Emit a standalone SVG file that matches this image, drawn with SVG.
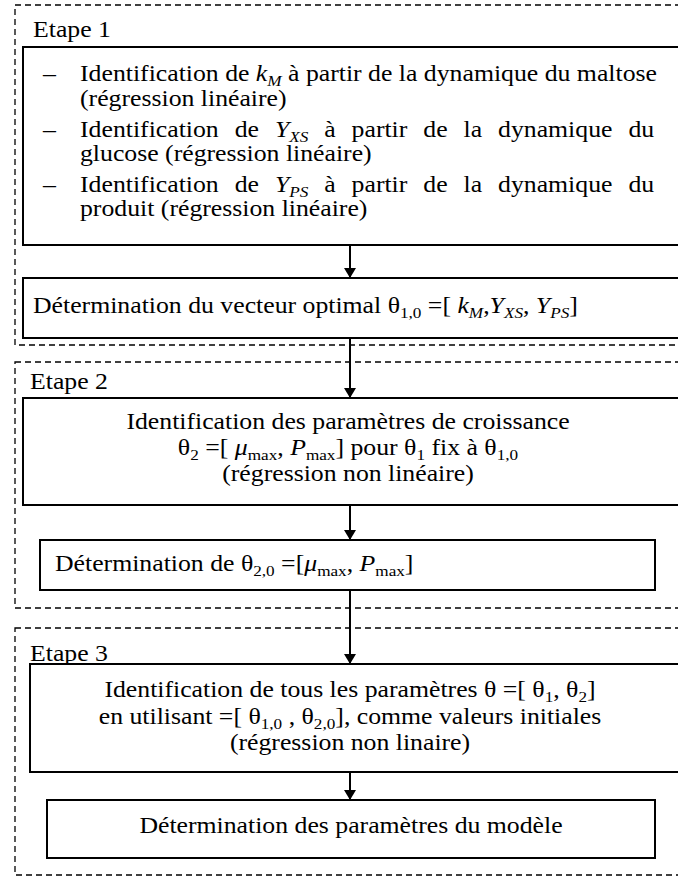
<svg xmlns="http://www.w3.org/2000/svg" width="678" height="878" viewBox="0 0 678 878">
<defs>
<marker id="arr" viewBox="0 0 10 12" refX="10" refY="6" markerWidth="10" markerHeight="12" markerUnits="userSpaceOnUse" orient="auto">
<path d="M0,0 L10,6 L0,12 Z" fill="#000"/>
</marker>
<style>
.stage{fill:none;stroke:#000;stroke-width:1.3;stroke-dasharray:6 4}
.box{fill:#fff;stroke:#000;stroke-width:2}
.t{font-family:"Liberation Serif","Times New Roman",serif;font-size:22.5px;fill:#000}
.c{text-anchor:middle}
.i{font-style:italic}
.s{font-size:15px}
.conn{stroke:#000;stroke-width:2;fill:none;marker-end:url(#arr)}
</style>
</defs>
<rect width="678" height="878" fill="#fff"/>
<g id="stage1">
<rect class="stage" x="15" y="5" width="700" height="340"/>
<text class="t" transform="translate(33,37) scale(1.145,1)">Etape 1</text>
</g>
<g id="stage2">
<rect class="stage" x="15" y="362" width="700" height="246"/>
<text class="t" transform="translate(30,389) scale(1.145,1)">Etape 2</text>
</g>
<g id="stage3">
<rect class="stage" x="15" y="628" width="700" height="247"/>
<text class="t" transform="translate(30,661) scale(1.145,1)">Etape 3</text>
</g>
<g id="connectors">
<line class="conn" x1="350" y1="246" x2="350" y2="278"/>
<line class="conn" x1="350" y1="338" x2="350" y2="398"/>
<line class="conn" x1="350" y1="505" x2="350" y2="540"/>
<line class="conn" x1="350" y1="590" x2="350" y2="664"/>
<line class="conn" x1="350" y1="772" x2="350" y2="800"/>
</g>
<g id="n1">
<rect class="box" x="23" y="47" width="700" height="198"/>
<text class="t" transform="translate(43,81) scale(1.145,1)">–</text>
<text class="t" transform="translate(80,81) scale(1.145,1)">Identification  de <tspan class="i">k</tspan><tspan class="i s" dy="5">M</tspan><tspan dy="-5"> à partir de la dynamique du maltose</tspan></text>
<text class="t" transform="translate(80,106) scale(1.145,1)">(régression linéaire)</text>
<text class="t" transform="translate(43,137) scale(1.145,1)">–</text>
<text class="t" transform="translate(80,137) scale(1.145,1)" word-spacing="8.3">Identification  de <tspan class="i">Y</tspan><tspan class="i s" dy="5">XS</tspan><tspan dy="-5"> à partir de la dynamique du</tspan></text>
<text class="t" transform="translate(80,161) scale(1.145,1)">glucose (régression linéaire)</text>
<text class="t" transform="translate(43,192) scale(1.145,1)">–</text>
<text class="t" transform="translate(80,192) scale(1.145,1)" word-spacing="8.3">Identification  de <tspan class="i">Y</tspan><tspan class="i s" dy="5">PS</tspan><tspan dy="-5"> à partir de la dynamique du</tspan></text>
<text class="t" transform="translate(80,216) scale(1.145,1)">produit (régression linéaire)</text>
</g>
<g id="n2">
<rect class="box" x="23" y="278" width="700" height="60"/>
<text class="t" transform="translate(33,313) scale(1.145,1)">Détermination du vecteur optimal θ<tspan class="s" dy="5">1,0</tspan><tspan dy="-5"> =[ </tspan><tspan class="i">k</tspan><tspan class="i s" dy="5">M</tspan><tspan dy="-5">,</tspan><tspan class="i">Y</tspan><tspan class="i s" dy="5">XS</tspan><tspan dy="-5">, </tspan><tspan class="i">Y</tspan><tspan class="i s" dy="5">PS</tspan><tspan dy="-5">]</tspan></text>
</g>
<g id="n3">
<rect class="box" x="23" y="398" width="700" height="107"/>
<text class="t c" transform="translate(348,429) scale(1.145,1)">Identification des paramètres de croissance</text>
<text class="t c" transform="translate(348,455) scale(1.145,1)">θ<tspan class="s" dy="5">2</tspan><tspan dy="-5"> =[ </tspan><tspan class="i">μ</tspan><tspan class="s" dy="5">max</tspan><tspan dy="-5">, </tspan><tspan class="i">P</tspan><tspan class="s" dy="5">max</tspan><tspan dy="-5">] pour θ</tspan><tspan class="s" dy="5">1</tspan><tspan dy="-5"> fix à θ</tspan><tspan class="s" dy="5">1,0</tspan></text>
<text class="t c" transform="translate(348,481) scale(1.145,1)">(régression non linéaire)</text>
</g>
<g id="n4">
<rect class="box" x="40" y="540" width="615" height="50"/>
<text class="t" transform="translate(55,571) scale(1.145,1)">Détermination de θ<tspan class="s" dy="5">2,0</tspan><tspan dy="-5"> =[</tspan><tspan class="i">μ</tspan><tspan class="s" dy="5">max</tspan><tspan dy="-5">, </tspan><tspan class="i">P</tspan><tspan class="s" dy="5">max</tspan><tspan dy="-5">]</tspan></text>
</g>
<g id="n5">
<rect class="box" x="30" y="664" width="700" height="108"/>
<text class="t c" transform="translate(350,697) scale(1.145,1)">Identification de tous les paramètres θ =[ θ<tspan class="s" dy="5">1</tspan><tspan dy="-5">, θ</tspan><tspan class="s" dy="5">2</tspan><tspan dy="-5">]</tspan></text>
<text class="t c" transform="translate(350,724) scale(1.145,1)">en utilisant =[ θ<tspan class="s" dy="5">1,0</tspan><tspan dy="-5"> , θ</tspan><tspan class="s" dy="5">2,0</tspan><tspan dy="-5">], comme valeurs initiales</tspan></text>
<text class="t c" transform="translate(350,750) scale(1.145,1)">(régression non linaire)</text>
</g>
<g id="n6">
<rect class="box" x="47" y="800" width="608" height="58"/>
<text class="t c" transform="translate(351,833) scale(1.145,1)">Détermination des paramètres du modèle</text>
</g>
</svg>
